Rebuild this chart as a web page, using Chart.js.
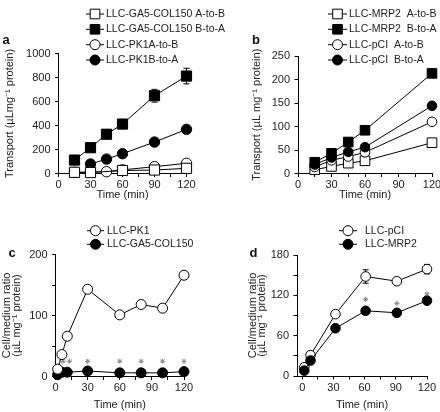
<!DOCTYPE html>
<html><head><meta charset="utf-8">
<script src="https://cdn.jsdelivr.net/npm/chart.js@4"></script>
<style>
html,body{margin:0;padding:0;background:#fff;}
#wrap{position:relative;width:440px;height:412px;overflow:hidden;}
#wrap canvas{position:absolute;left:0;top:0;}
</style></head><body><div id="wrap">
<canvas id="ca" width="440" height="412"></canvas>
<canvas id="cb" width="440" height="412"></canvas>
<canvas id="cc" width="440" height="412"></canvas>
<canvas id="cd" width="440" height="412"></canvas>
</div>
<script>
// ---------- data ----------
const xTicks = [0, 15, 30, 45, 60, 75, 90, 105, 120];

// Panel a
const aTimes = [15, 30, 45, 60, 90, 120];
const aGA5AtoB = [10, 8, null, 25, 29, 43];
const aGA5BtoA = [112, 215, 327, 412, 648, 812];
const aGA5BtoAErr = [0, 0, 0, 0, 53, 65];
const aPK1AtoB = [10, 12, 15, 30, 57, 85];
const aPK1BtoA = [null, 79, 120, 165, 262, 368];
const aYTicks = [0, 200, 400, 600, 800, 1000];

// Panel b
const bTimes = [15, 30, 45, 60, 120];
const bMRP2AtoB = [8, 15, 22, 27, 65.5];
const bMRP2BtoA = [24, 43, 67, 92, 213];
const bPCIAtoB = [14, 28, 36, 45, 110];
const bPCIBtoA = [19, 34, 46, 56, 144];
const bYTicks = [0, 50, 100, 150, 200, 250];

// Panel c
const cTimes = [2, 6, 11, 30, 60, 80, 100, 120];
const cPK1 = [12, 36, 66, 143, 101, 118, 112, 166];
const cGA5 = [3, 7, 7, 9, 6, 6, 6, 8];
const cStarTimes = [7, 13, 30, 60, 80, 100, 120];
const cStarValues = [25, 25, 25, 25, 25, 25, 25];
const cYTicks = [0, 50, 100, 150, 200];

// Panel d
const dTimes = [2, 8, 32, 61, 91, 120];
const dPCI = [13, 31, 92, 148, 141, 159];
const dPCIErr = [0, 0, 0, 10, 0, 7];
const dMRP2 = [8, 23, 71, 97, 94, 112];
const dStarTimes = [61, 91, 120];
const dStarValues = [114, 108, 122];
const dYTicks = [0, 30, 60, 90, 120, 150, 180];

// ---------- helpers ----------
const FONT = "'Liberation Sans', Arial, Helvetica, sans-serif";
Chart.defaults.font.family = FONT;
Chart.defaults.font.size = 11;
Chart.defaults.color = '#222';

function pts(times, vals, errs) {
  const out = [];
  times.forEach((t, i) => {
    if (vals[i] === null || vals[i] === undefined) return;
    const p = {x: t, y: vals[i]};
    if (errs && errs[i]) p.err = errs[i];
    out.push(p);
  });
  return out;
}
function series(label, data, shape, filled, r) {
  return {
    label, data,
    borderColor: '#000', borderWidth: 1, tension: 0, fill: false, showLine: true,
    pointStyle: shape, pointRadius: r, pointHoverRadius: r,
    pointBackgroundColor: filled ? '#000' : '#fff',
    pointBorderColor: '#000', pointBorderWidth: 1, clip: false
  };
}
function stars(data) {
  return {
    label: '*', data, showLine: false, pointStyle: 'star', pointRadius: 2.6,
    pointBorderColor: '#8a8a8a', pointBackgroundColor: '#8a8a8a', pointBorderWidth: 1,
    borderColor: '#8a8a8a', clip: false
  };
}

function drawMarker(ctx, shape, r, x, y, fill) {
  ctx.beginPath();
  if (shape === 'rect') {
    const h = Math.SQRT1_2 * r;
    ctx.rect(x - h, y - h, 2 * h, 2 * h);
  } else {
    ctx.arc(x, y, r, 0, Math.PI * 2);
  }
  ctx.fillStyle = fill; ctx.fill();
  ctx.strokeStyle = '#000'; ctx.lineWidth = 1; ctx.stroke();
}

const errPlugin = {
  id: 'errbars',
  beforeDatasetsDraw(chart) {
    const ctx = chart.ctx, ys = chart.scales.y;
    chart.data.datasets.forEach((ds, di) => {
      const meta = chart.getDatasetMeta(di);
      ds.data.forEach((p, i) => {
        if (!p.err) return;
        const el = meta.data[i];
        const top = ys.getPixelForValue(p.y + p.err), bot = ys.getPixelForValue(p.y - p.err);
        ctx.save(); ctx.strokeStyle = '#000'; ctx.lineWidth = 1;
        ctx.beginPath();
        ctx.moveTo(el.x, top); ctx.lineTo(el.x, bot);
        ctx.moveTo(el.x - 3, top); ctx.lineTo(el.x + 3, top);
        ctx.moveTo(el.x - 3, bot); ctx.lineTo(el.x + 3, bot);
        ctx.stroke(); ctx.restore();
      });
    });
  }
};

const decoPlugin = {
  id: 'deco',
  afterDraw(chart, args, o) {
    const ctx = chart.ctx;
    ctx.save();
    ctx.font = 'bold 13px ' + FONT; ctx.fillStyle = '#111';
    ctx.textAlign = 'left'; ctx.textBaseline = 'alphabetic';
    ctx.fillText(o.letter, o.letterX, o.letterY);
    const L = o.legend;
    ctx.font = '10.5px ' + FONT; ctx.textBaseline = 'middle';
    L.items.forEach((di, i) => {
      const ds = chart.data.datasets[di];
      const y = L.ys[i];
      ctx.strokeStyle = '#000'; ctx.lineWidth = 1;
      ctx.beginPath(); ctx.moveTo(L.x1, y); ctx.lineTo(L.x2, y); ctx.stroke();
      drawMarker(ctx, ds.pointStyle, ds.pointStyle === 'rect' ? L.rSq : L.rCi, L.mx, y, ds.pointBackgroundColor);
      ctx.fillStyle = '#222';
      ctx.fillText(ds.label, L.tx, y);
    });
    ctx.restore();
  }
};

function makePanel(id, p) {
  const lh = 11 * 1.2;
  const xBottom = p.xTitleY + lh / 2;
  const yLH = p.yLH || lh;
  return new Chart(document.getElementById(id), {
    type: 'line',
    data: {datasets: p.datasets},
    options: {
      responsive: false, animation: false, events: [],
      layout: {padding: {left: p.padL, top: p.area.top, right: 440 - p.area.right, bottom: 412 - xBottom}},
      plugins: {legend: {display: false}, tooltip: {enabled: false}, deco: p.deco},
      scales: {
        x: {
          type: 'linear', position: 'bottom', min: p.xMin, max: 120,
          afterBuildTicks: s => { s.ticks = xTicks.map(v => ({value: v})); },
          afterFit: s => { s.height = xBottom - p.area.bottom; s.paddingLeft = 0; s.paddingRight = 0; s.paddingTop = 0; s.paddingBottom = 0; },
          grid: {display: true, drawOnChartArea: false, drawTicks: true, tickLength: 3.5, tickColor: '#000', tickWidth: 1},
          border: {display: true, color: '#000', width: 1},
          ticks: {padding: 1.5, color: '#222', maxRotation: 0, autoSkip: false, font: {size: 11},
                  callback: v => (v % 30 === 0 ? String(v) : '')},
          title: {display: true, text: 'Time (min)', color: '#222', font: {size: 11}, padding: {top: 0, bottom: 0}}
        },
        y: {
          type: 'linear', position: 'left', min: 0, max: p.yMax,
          afterBuildTicks: s => { s.ticks = p.yTicks.map(v => ({value: v})); },
          afterFit: s => { s.width = p.area.left - p.padL; s.paddingTop = 0; s.paddingBottom = 0; s.paddingLeft = 0; s.paddingRight = 0; },
          grid: {display: true, drawOnChartArea: false, drawTicks: true, tickLength: 3.5, tickColor: '#000', tickWidth: 1},
          border: {display: true, color: '#000', width: 1},
          ticks: {padding: 4.5, color: '#222', font: {size: 11},
                  callback: v => (v % p.yLabelStep === 0 ? String(v) : '')},
          title: {display: true, text: p.yTitle, color: '#222',
                  font: {size: 11, lineHeight: yLH / 11},
                  padding: {top: p.yTitleX - p.padL - yLH / 2, bottom: 0}}
        }
      }
    },
    plugins: [errPlugin, decoPlugin]
  });
}

// ---------- panel a ----------
makePanel('ca', {
  area: {left: 58.5, right: 186.5, top: 53.5, bottom: 173.5},
  padL: 0, yTitleX: 10, xTitleY: 195, xMin: 0, yMax: 1000, yTicks: aYTicks, yLabelStep: 200,
  yTitle: 'Transport (\u00b5Lmg\u207b\u00b9 protein)',
  datasets: [
    series('LLC-GA5-COL150 A-to-B', pts(aTimes, aGA5AtoB), 'rect', false, 7.2),
    series('LLC-GA5-COL150 B-to-A', pts(aTimes, aGA5BtoA, aGA5BtoAErr), 'rect', true, 7.2),
    series('LLC-PK1A-to-B', pts(aTimes, aPK1AtoB), 'circle', false, 5.2),
    series('LLC-PK1B-to-A', pts(aTimes, aPK1BtoA), 'circle', true, 5.2)
  ],
  deco: {letter: 'a', letterX: 2.5, letterY: 44,
    legend: {x1: 86, x2: 104, mx: 95, tx: 106, rSq: 6.8, rCi: 5, ys: [14, 29.3, 44.7, 60], items: [0, 1, 2, 3]}}
});

// ---------- panel b ----------
makePanel('cb', {
  area: {left: 298, right: 432, top: 56, bottom: 173.5},
  padL: 248, yTitleX: 256.7, xTitleY: 195, xMin: 0, yMax: 250, yTicks: bYTicks, yLabelStep: 50,
  yTitle: 'Transport (\u00b5L mg\u207b\u00b9 protein)',
  datasets: [
    series('LLC-MRP2  B-to-A', pts(bTimes, bMRP2BtoA), 'rect', true, 6.8),
    series('LLC-pCI  B-to-A', pts(bTimes, bPCIBtoA), 'circle', true, 4.8),
    series('LLC-pCI  A-to-B', pts(bTimes, bPCIAtoB), 'circle', false, 4.8),
    series('LLC-MRP2  A-to-B', pts(bTimes, bMRP2AtoB), 'rect', false, 6.8)
  ],
  deco: {letter: 'b', letterX: 252, letterY: 44,
    legend: {x1: 328, x2: 347, mx: 337.5, tx: 349, rSq: 6.8, rCi: 5, ys: [14, 29.3, 44.7, 60], items: [3, 0, 2, 1]}}
});

// ---------- panel c ----------
makePanel('cc', {
  area: {left: 55.5, right: 184, top: 254.5, bottom: 376.5},
  padL: 0, yTitleX: 7, yLH: 9.5, xTitleY: 405, xMin: 0, yMax: 200, yTicks: cYTicks, yLabelStep: 100,
  yTitle: ['Cell/medium ratio', '(\u00b5L mg\u207b\u00b9 protein)'],
  datasets: [
    series('LLC-PK1', pts(cTimes, cPK1), 'circle', false, 5),
    series('LLC-GA5-COL150', pts(cTimes, cGA5), 'circle', true, 5),
    stars(pts(cStarTimes, cStarValues))
  ],
  deco: {letter: 'c', letterX: 8.5, letterY: 256.5,
    legend: {x1: 87, x2: 104, mx: 95.5, tx: 107, rSq: 6.8, rCi: 5, ys: [230.7, 244.3], items: [0, 1]}}
});

// ---------- panel d ----------
makePanel('cd', {
  area: {left: 297, right: 427, top: 255, bottom: 376},
  padL: 245, yTitleX: 252.5, yLH: 9.5, xTitleY: 405, xMin: -5, yMax: 180, yTicks: dYTicks, yLabelStep: 60,
  yTitle: ['Cell/medium ratio', '(\u00b5L mg\u207b\u00b9 protein)'],
  datasets: [
    series('LLC-MRP2', pts(dTimes, dMRP2), 'circle', true, 4.8),
    series('LLC-pCI', pts(dTimes, dPCI, dPCIErr), 'circle', false, 4.8),
    stars(pts(dStarTimes, dStarValues))
  ],
  deco: {letter: 'd', letterX: 249.5, letterY: 257,
    legend: {x1: 339, x2: 357, mx: 348, tx: 365, rSq: 6.8, rCi: 5, ys: [230.7, 244.3], items: [1, 0]}}
});
</script>
</body></html>
